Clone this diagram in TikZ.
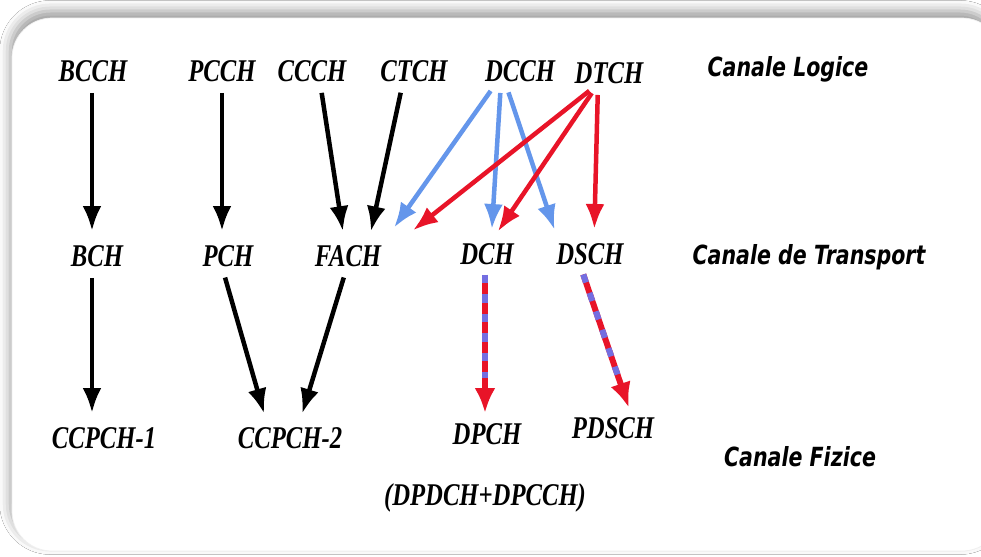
\documentclass[tikz,border=0pt]{standalone}
\usepackage{fontspec}
\usepackage{tikz}
\usetikzlibrary{arrows.meta, calc, shadows.blur}
\newfontfamily\chfont[FakeStretch=0.78]{Liberation Serif}
\newfontfamily\lvlfont[FakeStretch=0.78]{DejaVu Sans}
\definecolor{chblue}{RGB}{100,150,235}
\definecolor{chred}{RGB}{232,20,40}
\definecolor{chdash}{RGB}{115,110,225}

\begin{document}
\begin{tikzpicture}[
  x=0.02cm, y=-0.02cm,
  ch/.style={font=\chfont\bfseries\itshape\fontsize{18}{20}\selectfont, inner sep=0pt},
  lvl/.style={font=\lvlfont\bfseries\itshape\fontsize{15}{18}\selectfont, inner sep=0pt},
  arr/.style={-{Latex[length=0.5cm, width=0.38cm]}, line width=0.09cm, shorten <=0.22cm, shorten >=0.28cm},
  blk/.style={arr, black},
  blu/.style={arr, chblue},
  rd/.style={arr, chred},
  mixed/.style={-{Latex[length=0.5cm, width=0.42cm]}, line width=0.12cm, chred, shorten <=0.2cm, shorten >=0.2cm},
  mixdash/.style={line width=0.12cm, chdash, dash pattern=on 0.17cm off 0.22cm, shorten <=0.2cm, shorten >=0.9cm},
]
\useasboundingbox (0,0) rectangle (981,556);
% frame
\fill[white] (0,0) rectangle (981,556);
\draw[draw=gray!12, fill=white, rounded corners=0.8cm,
  blur shadow={shadow xshift=-1pt, shadow yshift=4pt, shadow blur radius=6pt, shadow opacity=40}]
  (12,18) rectangle (1002,551);

% logical channels
\node[ch] (bcch) at (93,71) {BCCH};
\node[ch] (pcch) at (222,71) {PCCH};
\node[ch] (ccch) at (312,71) {CCCH};
\node[ch] (ctch) at (414,71) {CTCH};
\node[ch] (dcch) at (520,71) {DCCH};
\node[ch] (dtch) at (609,73) {DTCH};
\node[lvl] (logice) at (788,69) {Canale Logice};

% transport channels
\node[ch] (bch) at (97,256) {BCH};
\node[ch] (pch) at (228,256) {PCH};
\node[ch] (fach) at (348,256) {FACH};
\node[ch] (dch) at (487,254) {DCH};
\node[ch] (dsch) at (590,254) {DSCH};
\node[lvl] (transport) at (809,257) {Canale de Transport};

% physical channels
\node[ch] (ccpch1) at (104,438) {CCPCH-1};
\node[ch] (ccpch2) at (290,438) {CCPCH-2};
\node[ch] (dpch) at (487,434) {DPCH};
\node[ch] (dpdch) at (485,498) {(DPDCH+DPCCH)};
\node[ch] (pdsch) at (613,428) {PDSCH};
\node[lvl] (fizice) at (800,457) {Canale Fizice};

% logical -> transport
\draw[blk] ($(bcch.south)+(-1,0)$) -- ($(bch.north)+(-5,0)$);
\draw[blk] (pcch.south) -- ($(pch.north)+(-6,0)$);
\draw[blk] ($(ccch.south)+(8,0)$) -- ($(fach.north)+(-3,0)$);
\draw[blk] ($(ctch.south)+(-11,0)$) -- ($(fach.north)+(20,0)$);
\draw[blu] ($(dcch.south)+(-23,0)$) -- ($(fach.north)+(38,-6)$);
\draw[blu] ($(dcch.south)+(-19,0)$) -- ($(dch.north)+(4,0)$);
\draw[blu] ($(dcch.south)+(-15,0)$) -- ($(dsch.north)+(-31,0)$);
\draw[rd] ($(dtch.south)+(-11,0)$) -- ($(fach.north)+(54,-6)$);
\draw[rd] ($(dtch.south)+(-11,0)$) -- ($(dch.north)+(3,0)$);
\draw[rd] ($(dtch.south)+(-11,0)$) -- ($(dsch.north)+(4,0)$);

% transport -> physical
\draw[blk] ($(bch.south)+(-5,0)$) -- ($(ccpch1.north)+(-12,0)$);
\draw[blk] ($(pch.south)+(-6,0)$) -- ($(ccpch2.north)+(-22,0)$);
\draw[blk] ($(fach.south)+(-1,0)$) -- ($(ccpch2.north)+(8,0)$);
\draw[mixed] ($(dch.south)+(-2,0)$) -- ($(dpch.north)+(-2,0)$);
\draw[mixdash] ($(dch.south)+(-2,0)$) -- ($(dpch.north)+(-2,0)$);
\draw[mixed] ($(dsch.south)+(-10,0)$) -- ($(pdsch.north)+(19,0)$);
\draw[mixdash] ($(dsch.south)+(-10,0)$) -- ($(pdsch.north)+(19,0)$);
\end{tikzpicture}
\end{document}
